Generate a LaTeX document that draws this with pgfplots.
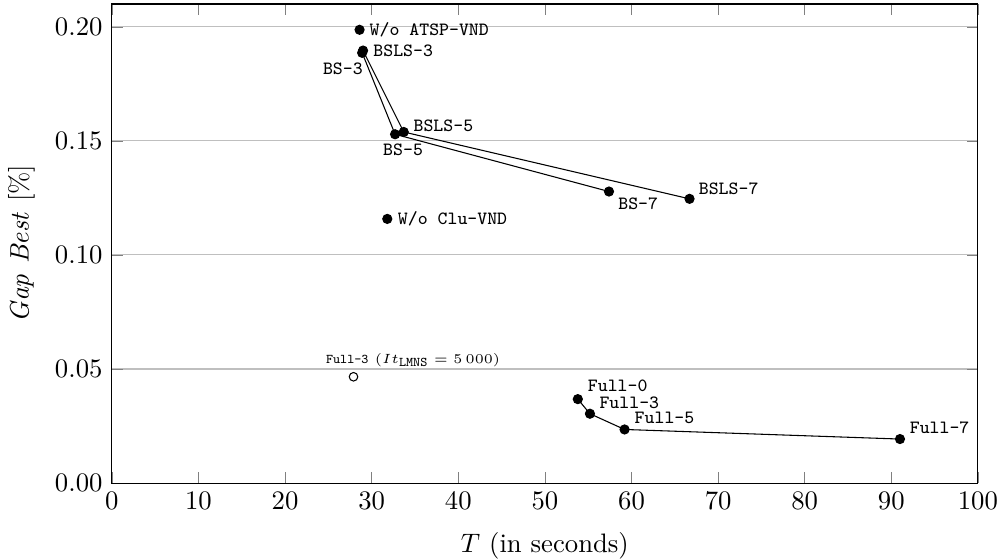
\documentclass[border=0pt]{standalone}
\usepackage{pgfplots}
\pgfplotsset{compat=1.18}

\pgfplotsset{
  labelled/.style={
    black, mark=*, mark size=1.7pt,
    point meta=explicit symbolic,
    nodes near coords,
    visualization depends on={value \thisrow{anc}\as\myanchor},
    visualization depends on={\thisrow{dx}\as\mydx},
    visualization depends on={\thisrow{dy}\as\mydy},
    every node near coord/.append style={font=\scriptsize\ttfamily,anchor=\myanchor,
      inner sep=2pt,xshift=\mydx pt,yshift=\mydy pt},
  },
}

\begin{document}
\begin{tikzpicture}
\begin{axis}[
  scale only axis,
  width=324.3pt, height=179.4pt,
  xmin=0, xmax=100, ymin=0, ymax=0.21,
  xtick={0,10,...,100},
  ytick={0,0.05,0.10,0.15,0.20},
  yticklabel style={/pgf/number format/fixed,/pgf/number format/fixed zerofill,/pgf/number format/precision=2},
  scaled y ticks=false,
  ymajorgrids=true,
  grid style={gray!50},
  xlabel={$T$ (in seconds)},
  ylabel={$\mathit{Gap\ Best}$ [\%]},
  xlabel style={yshift=-1.7pt},
  ylabel style={yshift=0.5pt},
]
% time [s], gap [%], label, anchor and shift of the label
\addplot[labelled] table[col sep=comma,x=x,y=y,meta=lab] {
x,y,lab,anc,dx,dy
28.9,0.1886,BS-3,north east,2.4,-1.7
32.7,0.1529,BS-5,north,3,-1.4
57.4,0.1278,BS-7,north west,1.3,0
};
\addplot[labelled] table[col sep=comma,x=x,y=y,meta=lab] {
x,y,lab,anc,dx,dy
29.0,0.1896,BSLS-3,west,1.7,0
33.7,0.1539,BSLS-5,west,1.5,2.3
66.7,0.1246,BSLS-7,west,1.3,3.9
};
\addplot[labelled] table[col sep=comma,x=x,y=y,meta=lab] {
x,y,lab,anc,dx,dy
53.8,0.0368,Full-0,west,1.6,4.9
55.2,0.0304,Full-3,west,1.4,4
59.2,0.0235,Full-5,west,1.6,4.2
91.0,0.0193,Full-7,west,1.5,4.1
};
\addplot[labelled,only marks] table[col sep=comma,x=x,y=y,meta=lab] {
x,y,lab,anc,dx,dy
28.6,0.1987,W/o ATSP-VND,west,1.6,0
31.8,0.1158,W/o Clu-VND,west,1.8,0
};
\addplot[black,only marks,mark=o,mark size=1.6pt,
  nodes near coords={\texttt{Full-3} ($It_{\texttt{LMNS}}=5\,000$)},
  every node near coord/.append style={font=\tiny,anchor=west,inner sep=0pt,xshift=-10.5pt,yshift=6.3pt}]
  coordinates {(27.9,0.0466)};
\end{axis}
\pgfresetboundingbox
\path[use as bounding box] ([shift={(-41.9pt,-28.1pt)}]current axis.south west)
  rectangle ([shift={(7.9pt,1.5pt)}]current axis.north east);
\end{tikzpicture}
\end{document}
